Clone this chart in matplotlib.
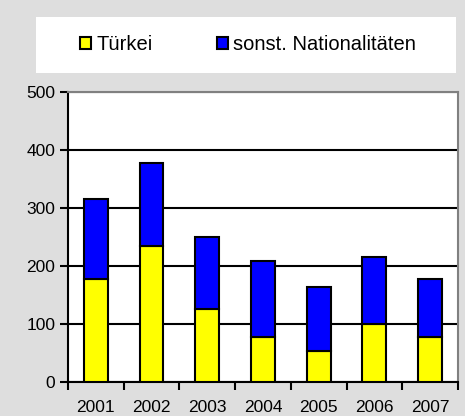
import matplotlib.pyplot as plt
import matplotlib.patches as mpatches
import numpy as np

plt.rcParams['font.family'] = ['Liberation Sans', 'DejaVu Sans']

years = ['2001', '2002', '2003', '2004', '2005', '2006', '2007']
tuerkei = [178, 235, 126, 78, 54, 100, 78]
sonstige = [137, 143, 124, 131, 109, 116, 99]

fig = plt.figure(figsize=(4.65, 4.16), dpi=100)
fig.patch.set_facecolor('#dedede')
ax = fig.add_axes([0.146, 0.0817, 0.839, 0.697])

x = np.arange(len(years))
ax.bar(x, tuerkei, width=0.43, color='#ffff00', edgecolor='black', linewidth=1.5, zorder=3)
ax.bar(x, sonstige, bottom=tuerkei, width=0.43, color='#0000ff', edgecolor='black', linewidth=1.5, zorder=3)

ax.set_xlim(-0.5, len(years) - 0.5)
ax.set_ylim(0, 500)
ax.set_yticks([0, 100, 200, 300, 400, 500])
ax.set_xticks(x)
ax.set_xticklabels(years)
ax.set_xticks(np.arange(-0.5, len(years)), minor=True)
ax.tick_params(axis='x', which='major', length=0, pad=13, labelsize=12.5)
ax.tick_params(axis='x', which='minor', length=6, width=1.5, direction='out')
ax.tick_params(axis='y', length=6, width=1.5, labelsize=12.5, pad=3)
ax.yaxis.grid(True, color='black', linewidth=1.5, zorder=0)
ax.set_axisbelow(True)
for s in ['left', 'bottom']:
    ax.spines[s].set_linewidth(1.5)
    ax.spines[s].set_color('black')
for s in ['top', 'right']:
    ax.spines[s].set_linewidth(1.5)
    ax.spines[s].set_color('#808080')

# legend box
fig.patches.append(mpatches.Rectangle((36 / 465, 1 - 73 / 416), 420 / 465, 56 / 416,
                                      transform=fig.transFigure, facecolor='white',
                                      edgecolor='none', zorder=0))
handles = [mpatches.Patch(facecolor='#ffff00', edgecolor='black', linewidth=1.5, label='Türkei'),
           mpatches.Patch(facecolor='#0000ff', edgecolor='black', linewidth=1.5, label='sonst. Nationalitäten')]
fig.legend(handles=handles, loc='center', bbox_to_anchor=(248 / 465, 1 - 45 / 416), ncol=2,
           frameon=False, fontsize=14.5, handlelength=0.55, handleheight=0.55,
           handletextpad=0.25, columnspacing=3.2)

fig.savefig('out.png', dpi=100, facecolor=fig.get_facecolor())
